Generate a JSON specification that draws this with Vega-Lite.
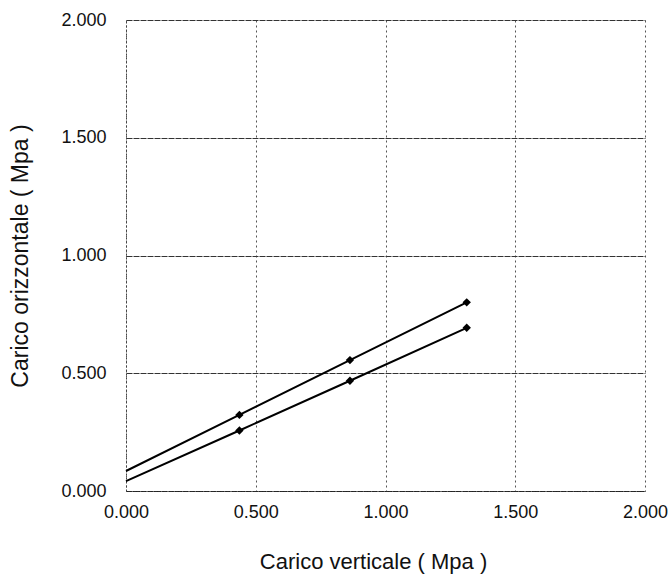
{
  "$schema": "https://vega.github.io/schema/vega-lite/v6.json",
  "autosize": {"type": "none"},
  "width": 519,
  "height": 471,
  "padding": {"left": 126, "top": 20, "right": 23, "bottom": 86},
  "background": "white",
  "config": {
    "view": {"stroke": null},
    "font": "Liberation Sans"
  },
  "data": {
    "values": [
      {"serie": "A", "x": 0.0, "y": 0.085, "marker": false},
      {"serie": "A", "x": 0.437, "y": 0.323, "marker": true},
      {"serie": "A", "x": 0.863, "y": 0.556, "marker": true},
      {"serie": "A", "x": 1.313, "y": 0.801, "marker": true},
      {"serie": "B", "x": 0.0, "y": 0.042, "marker": false},
      {"serie": "B", "x": 0.437, "y": 0.257, "marker": true},
      {"serie": "B", "x": 0.863, "y": 0.468, "marker": true},
      {"serie": "B", "x": 1.313, "y": 0.693, "marker": true}
    ]
  },
  "encoding": {
    "x": {
      "field": "x", "type": "quantitative",
      "scale": {"domain": [0, 2], "nice": false, "zero": true},
      "axis": {
        "values": [0, 0.5, 1, 1.5, 2], "format": ".3f",
        "title": "Carico verticale ( Mpa )",
        "titleFont": "Liberation Sans", "titleFontSize": 22, "titleFontWeight": "normal", "titleColor": "#111",
        "titlePadding": 30, "titleX": 247,
        "labelFont": "Liberation Sans", "labelFontSize": 18, "labelColor": "#111", "labelPadding": 12,
        "labelFlush": false, "labelOverlap": false,
        "ticks": false, "domain": true, "domainColor": "#222", "domainWidth": 1, "domainDash": [2, 1],
        "grid": true, "gridColor": "#555", "gridDash": [2, 3], "gridWidth": 1
      }
    },
    "y": {
      "field": "y", "type": "quantitative",
      "scale": {"domain": [0, 2], "nice": false, "zero": true},
      "axis": {
        "values": [0, 0.5, 1, 1.5, 2], "format": ".3f",
        "title": "Carico orizzontale ( Mpa )",
        "titleFont": "Liberation Sans", "titleFontSize": 23, "titleFontWeight": "normal", "titleColor": "#111",
        "titlePadding": 28,
        "labelFont": "Liberation Sans", "labelFontSize": 18, "labelColor": "#111", "labelPadding": 20,
        "labelFlush": false, "labelOverlap": false,
        "ticks": false, "domain": true, "domainColor": "#444", "domainWidth": 1, "domainDash": [2, 2],
        "grid": true, "gridColor": "#333", "gridDash": [6, 1], "gridWidth": 1
      }
    }
  },
  "layer": [
    {
      "mark": {"type": "rule", "color": "#555", "strokeDash": [2, 2], "strokeWidth": 1},
      "data": {"values": [{"x": 2}]},
      "encoding": {"x": {"field": "x", "type": "quantitative"}, "y": {"datum": 0}, "y2": {"datum": 2}}
    },
    {
      "mark": {"type": "line", "color": "black", "strokeWidth": 2},
      "encoding": {"detail": {"field": "serie"}}
    },
    {
      "transform": [{"filter": "datum.marker"}],
      "mark": {"type": "point", "shape": "diamond", "filled": true, "color": "black", "size": 70, "opacity": 1},
      "encoding": {"detail": {"field": "serie"}}
    }
  ]
}
